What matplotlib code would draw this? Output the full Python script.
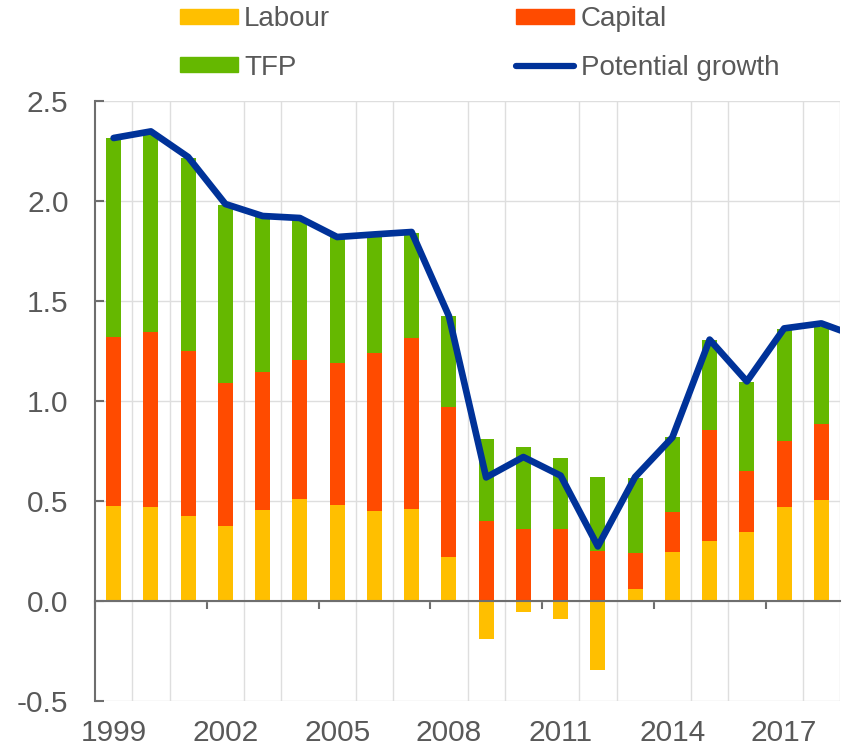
import numpy as np
import matplotlib
matplotlib.use("Agg")
import matplotlib.pyplot as plt
from matplotlib.patches import Patch
from matplotlib.lines import Line2D

plt.rcParams['font.family'] = ['Liberation Sans', 'DejaVu Sans']

years = list(range(1999, 2019))
labour = [0.477, 0.468, 0.425, 0.373, 0.455, 0.510, 0.480, 0.452, 0.462, 0.218,
          -0.192, -0.053, -0.090, -0.347, 0.060, 0.245, 0.300, 0.345, 0.470, 0.505]
capital = [0.843, 0.879, 0.823, 0.717, 0.690, 0.697, 0.708, 0.788, 0.855, 0.754,
           0.398, 0.358, 0.362, 0.252, 0.178, 0.198, 0.553, 0.307, 0.328, 0.378]
tfp = [0.995, 0.995, 0.967, 0.892, 0.778, 0.705, 0.632, 0.588, 0.525, 0.453,
       0.410, 0.412, 0.353, 0.366, 0.379, 0.375, 0.452, 0.443, 0.564, 0.489]
# potential growth (last value 2019, partly visible at right edge)
potential = [2.315, 2.348, 2.220, 1.985, 1.925, 1.915, 1.820, 1.833, 1.845, 1.425,
             0.618, 0.720, 0.627, 0.273, 0.620, 0.818, 1.307, 1.098, 1.363, 1.388, 1.320]
tick_years = [1999, 2002, 2005, 2008, 2011, 2014, 2017]

c_lab = '#FFBF00'
c_cap = '#FF4B00'
c_tfp = '#65B800'
c_line = '#003299'
c_text = '#595959'
c_axis = '#6E6E6E'
c_grid = '#DEDEDE'

fig = plt.figure(figsize=(8.42, 7.54), dpi=100)
ax = fig.add_axes([95/842, 1-701/754, (840-95)/842, 600/754])

x = np.arange(len(years))
lab = np.array(labour)
cap = np.array(capital)
tf = np.array(tfp)
pos_base = np.where(lab > 0, lab, 0.0)
w = 0.4
ax.bar(x, lab, width=w, color=c_lab, zorder=2)
ax.bar(x, cap, width=w, bottom=pos_base, color=c_cap, zorder=2)
ax.bar(x, tf, width=w, bottom=pos_base + cap, color=c_tfp, zorder=2)
ax.plot(np.arange(len(potential)), potential, color=c_line, lw=4.8,
        solid_capstyle='round', solid_joinstyle='round', zorder=3)

ax.set_xlim(-0.5, len(years) - 0.5)
ax.set_ylim(-0.5, 2.5)
ax.set_yticks(np.arange(-0.5, 2.51, 0.5))
ax.set_yticklabels([f"{v:.1f}" for v in np.arange(-0.5, 2.51, 0.5)])

for s in ['top', 'right']:
    ax.spines[s].set_visible(False)
ax.spines['left'].set_color(c_axis)
ax.spines['left'].set_linewidth(1.5)
ax.spines['bottom'].set_position(('data', 0))
ax.spines['bottom'].set_color(c_axis)
ax.spines['bottom'].set_linewidth(1.5)
ax.spines['bottom'].set_zorder(4)

ax.set_xticks(np.arange(-0.5, len(years), 3))
ax.set_xticklabels([])
ax.set_xticks(np.arange(-0.5, len(years) + 0.5, 1), minor=True)
ax.tick_params(axis='x', which='major', direction='out', length=6, width=1.5, color=c_axis)
ax.tick_params(axis='x', which='minor', length=0)
ax.tick_params(axis='y', direction='in', length=6.5, width=1.5, color=c_axis,
               labelsize=21.5, labelcolor=c_text, pad=19)
ax.grid(True, axis='x', which='minor', color=c_grid, lw=1)
ax.grid(True, axis='y', which='major', color=c_grid, lw=1)
ax.set_axisbelow(True)

sec = ax.secondary_xaxis('bottom')
sec.set_xticks([years.index(y) for y in tick_years])
sec.set_xticklabels([str(y) for y in tick_years])
sec.tick_params(length=0, labelsize=21.5, labelcolor=c_text, pad=13)
sec.spines['bottom'].set_visible(False)

handles = [Patch(color=c_lab), Patch(color=c_tfp), Patch(color=c_cap),
           Line2D([0], [0], color=c_line, lw=4.5, solid_capstyle='round')]
labels = ['Labour', 'TFP', 'Capital', 'Potential growth']
leg = fig.legend(handles, labels, ncol=2, loc='upper left',
                 bbox_to_anchor=(180/842, 0.992), frameon=False, fontsize=20,
                 handlelength=2.09, handleheight=0.47, handletextpad=0.22,
                 columnspacing=6.7, labelspacing=0.81, borderpad=0, borderaxespad=0)
for t in leg.get_texts():
    t.set_color(c_text)

fig.savefig('out.png', dpi=100)
